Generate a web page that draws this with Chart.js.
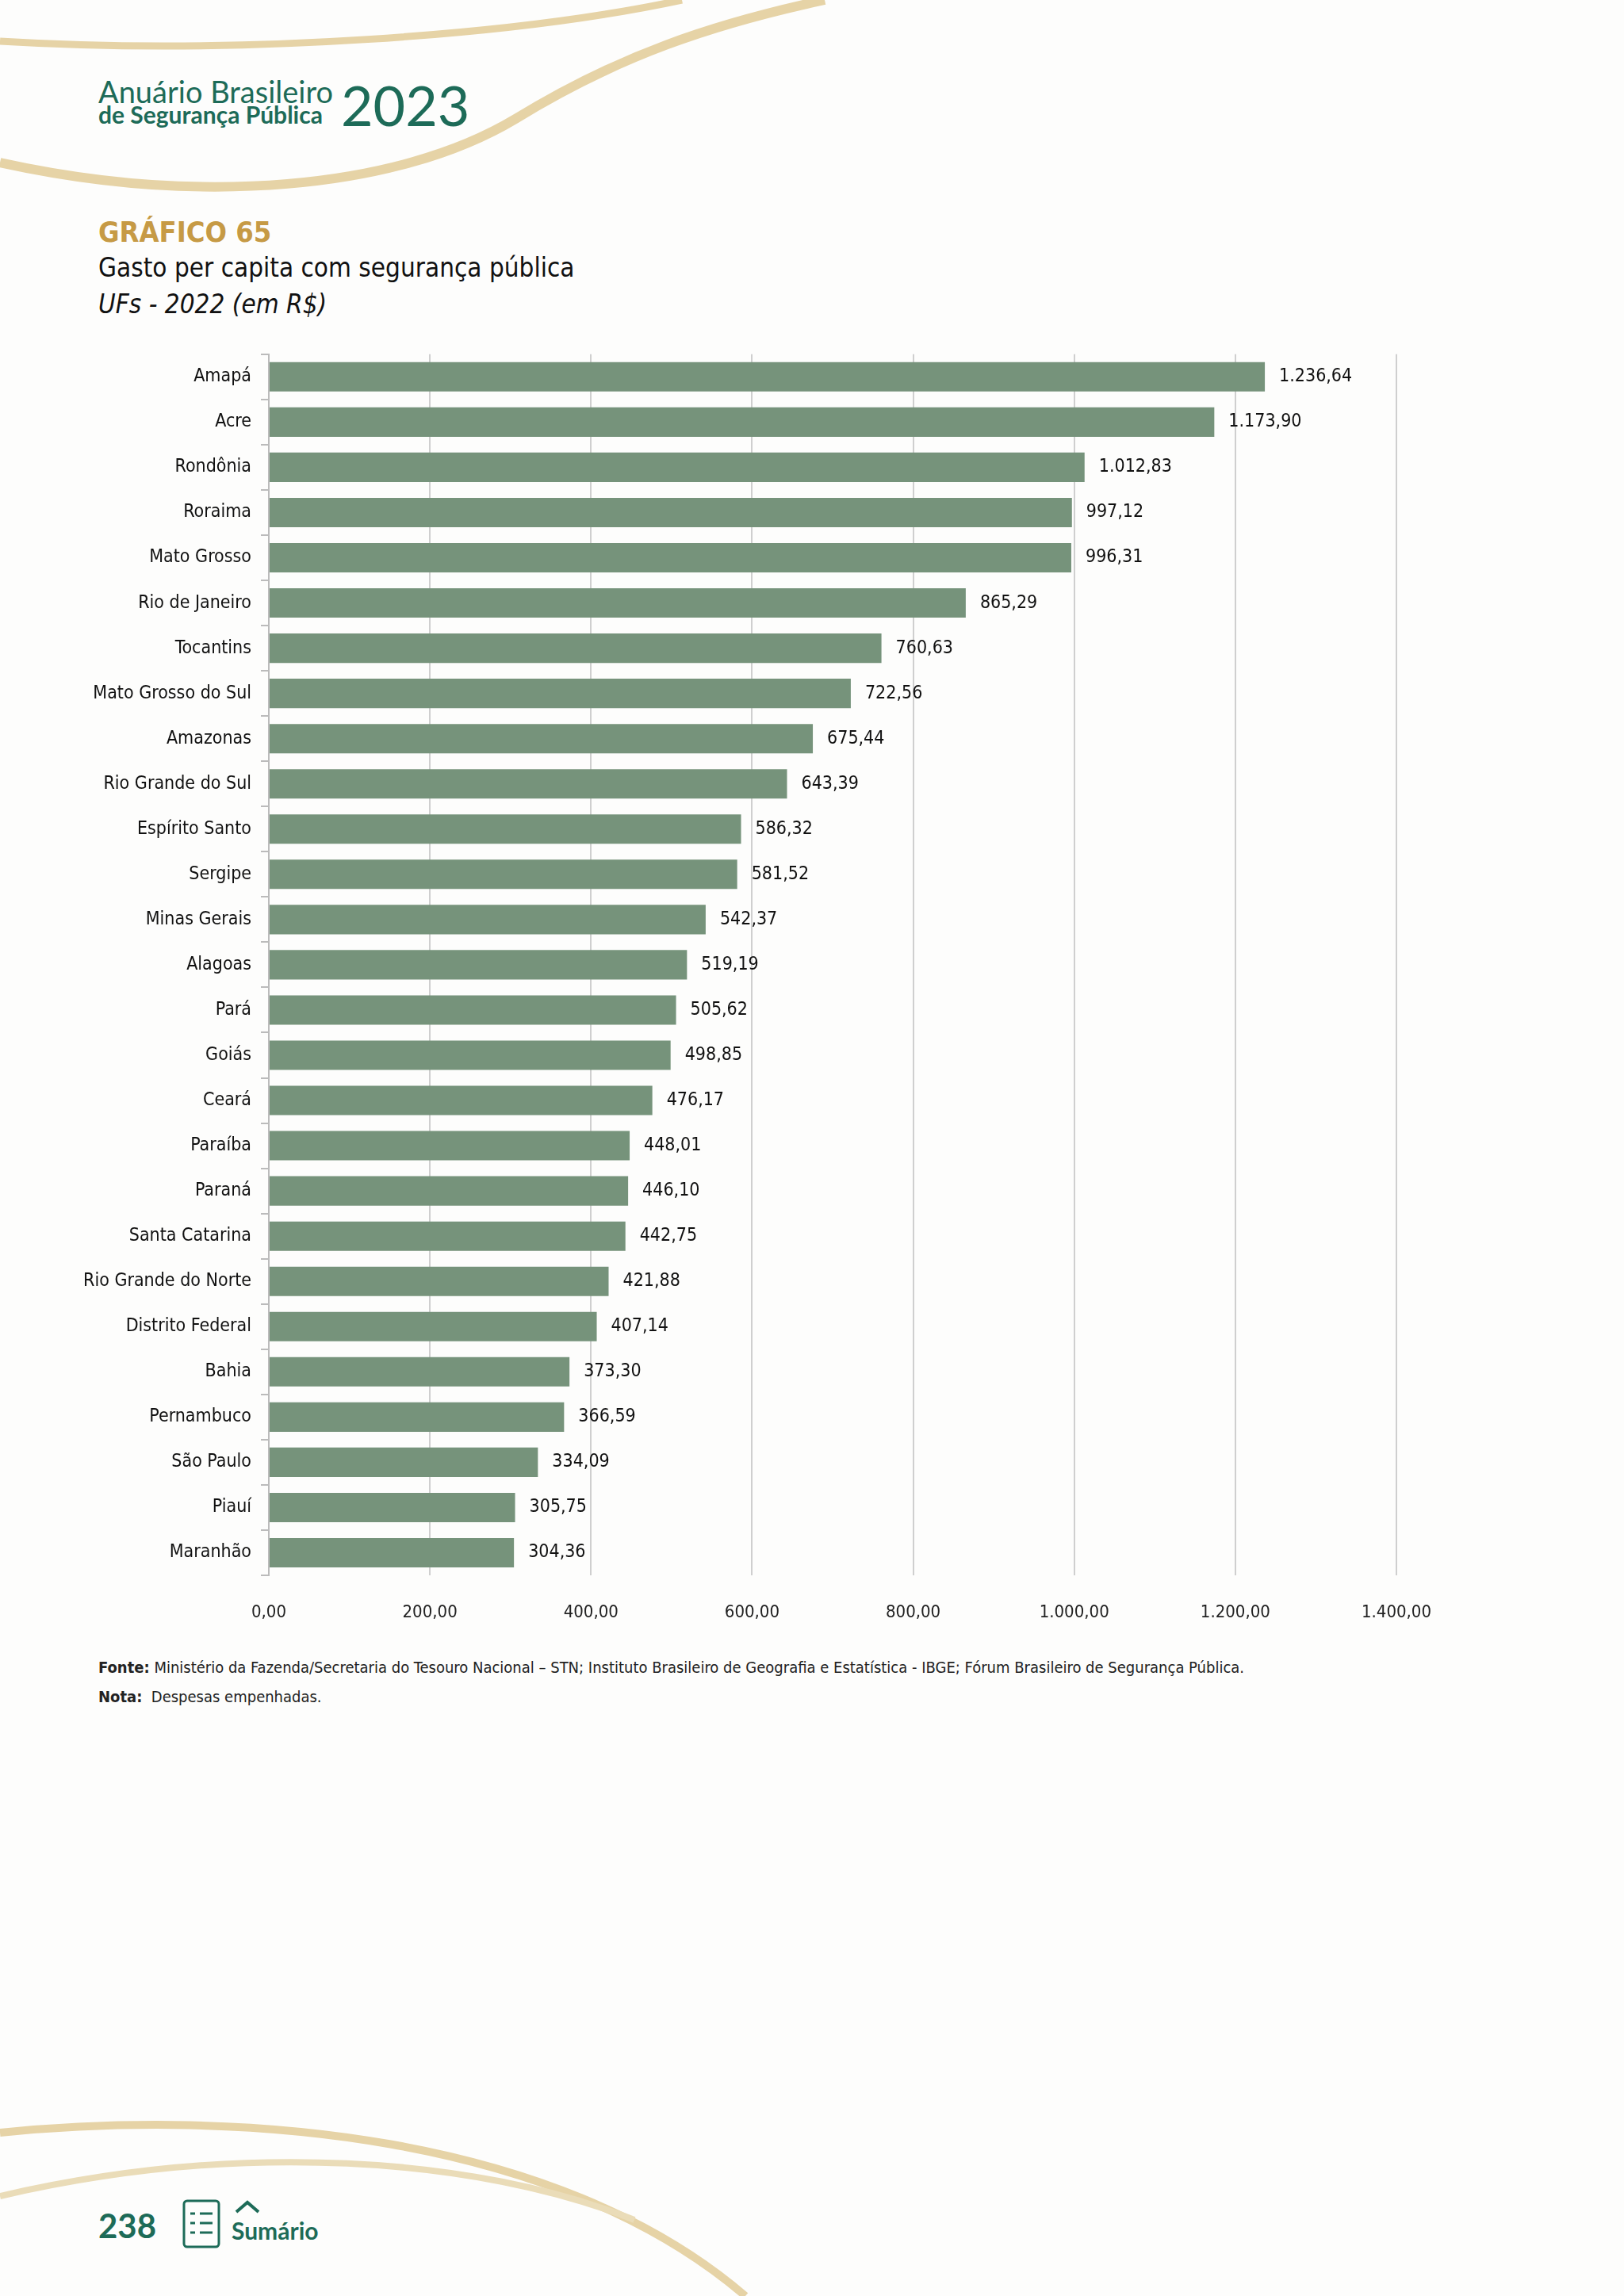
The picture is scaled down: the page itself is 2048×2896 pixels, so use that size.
<!DOCTYPE html>
<html><head><meta charset="utf-8">
<script src="https://cdn.jsdelivr.net/npm/chart.js@4"></script>
<style>
body{margin:0;width:2048px;height:2896px;background:#fdfdfc;position:relative;overflow:hidden;font-family:"DejaVu Sans Condensed",sans-serif;}
.t{position:absolute;white-space:nowrap;}
#wrap{position:absolute;left:0;top:421px;width:2048px;height:1638px;}
</style></head><body>
<svg width="2048" height="2896" style="position:absolute;left:0;top:0">
 <path d="M0 52 C300 70 650 45 860 0" stroke="#e6d3a6" stroke-width="9" fill="none"/>
 <path d="M0 205 C250 260 500 240 650 150 C780 70 900 30 1040 0" stroke="#e6d3a6" stroke-width="12" fill="none"/>
 <path d="M0 2690 C300 2660 700 2690 940 2896" stroke="#e6d3a6" stroke-width="10" fill="none"/>
 <path d="M0 2770 C300 2700 600 2720 800 2800" stroke="#eadcb8" stroke-width="8" fill="none"/>
</svg>
<div class="t" style="left:124px;top:92px;font:38px Lato,sans-serif;color:#1d6b58">Anuário Brasileiro</div>
<div class="t" style="left:124px;top:126px;font:bold 30px Lato,sans-serif;color:#1d6b58">de Segurança Pública</div>
<div class="t" style="left:430px;top:90px;font:70px Lato,sans-serif;color:#1d6b58">2023</div>
<div class="t" style="left:124px;top:272px;font:bold 36px 'DejaVu Sans Condensed',sans-serif;color:#c69a45">GRÁFICO 65</div>
<div class="t" style="left:124px;top:318px;font:33px 'DejaVu Sans Condensed',sans-serif;color:#111">Gasto per capita com segurança pública</div>
<div class="t" style="left:124px;top:364px;font:italic 33px 'DejaVu Sans Condensed',sans-serif;color:#111">UFs - 2022 (em R$)</div>
<div class="t" style="left:124px;top:2091px;font:20px 'DejaVu Sans Condensed',sans-serif;color:#222"><b>Fonte:</b> Ministério da Fazenda/Secretaria do Tesouro Nacional – STN; Instituto Brasileiro de Geografia e Estatística - IBGE; Fórum Brasileiro de Segurança Pública.</div>
<div class="t" style="left:124px;top:2128px;font:20px 'DejaVu Sans Condensed',sans-serif;color:#222"><b>Nota:</b>&nbsp; Despesas empenhadas.</div>
<div class="t" style="left:124px;top:2782px;font:bold 42px Lato,sans-serif;color:#1d6b58">238</div>
<svg width="60" height="70" style="position:absolute;left:228px;top:2772px"><rect x="4" y="4" width="44" height="58" rx="4" fill="none" stroke="#1d6b58" stroke-width="3"/><g stroke="#1d6b58" stroke-width="3"><line x1="12" y1="20" x2="18" y2="20"/><line x1="24" y1="20" x2="40" y2="20"/><line x1="12" y1="32" x2="18" y2="32"/><line x1="24" y1="32" x2="40" y2="32"/><line x1="12" y1="44" x2="18" y2="44"/><line x1="24" y1="44" x2="40" y2="44"/></g></svg>
<svg width="40" height="24" style="position:absolute;left:294px;top:2772px"><path d="M4 18 L18 6 L32 18" stroke="#1d6b58" stroke-width="4" fill="none"/></svg>
<div class="t" style="left:292px;top:2795px;font:bold 30px Lato,sans-serif;color:#1d6b58">Sumário</div>
<div id="wrap"><canvas id="c"></canvas></div>
<script>
const categories = ['Amapá','Acre','Rondônia','Roraima','Mato Grosso','Rio de Janeiro','Tocantins','Mato Grosso do Sul','Amazonas','Rio Grande do Sul','Espírito Santo','Sergipe','Minas Gerais','Alagoas','Pará','Goiás','Ceará','Paraíba','Paraná','Santa Catarina','Rio Grande do Norte','Distrito Federal','Bahia','Pernambuco','São Paulo','Piauí','Maranhão'];
const values = [1236.64,1173.90,1012.83,997.12,996.31,865.29,760.63,722.56,675.44,643.39,586.32,581.52,542.37,519.19,505.62,498.85,476.17,448.01,446.10,442.75,421.88,407.14,373.30,366.59,334.09,305.75,304.36];
const tickValues = [0,200,400,600,800,1000,1200,1400];

function fmt(v){
  const p = v.toFixed(2).split('.');
  return p[0].replace(/\B(?=(\d{3})+(?!\d))/g,'.') + ',' + p[1];
}
const FONT = 'DejaVu Sans Condensed';
const labelPlugin = {
  id:'vals',
  afterDatasetsDraw(chart){
    const ctx = chart.ctx;
    ctx.save();
    ctx.font = '23px "' + FONT + '"';
    ctx.fillStyle = '#111';
    ctx.textBaseline = 'middle';
    chart.getDatasetMeta(0).data.forEach((b,i)=>{
      ctx.fillText(fmt(values[i]), b.x + 18, b.y);
    });
    ctx.restore();
  }
};
new Chart(document.getElementById('c'), {
  type:'bar',
  data:{labels:categories, datasets:[{data:values, backgroundColor:'#76937b', barPercentage:0.65, categoryPercentage:1}]},
  plugins:[labelPlugin],
  options:{
    indexAxis:'y', responsive:true, maintainAspectRatio:false, animation:false,
    layout:{padding:{top:10,right:287,left:0,bottom:0}},
    plugins:{legend:{display:false}, tooltip:{enabled:false}},
    scales:{
      x:{min:0,max:1400,
        afterBuildTicks(a){a.ticks = tickValues.map(v=>({value:v}));},
        afterFit(a){a.height = 72;},
        grid:{color:'#cfcfcf', lineWidth:2, drawTicks:false},
        border:{display:false},
        ticks:{padding:34, color:'#222', font:{family:FONT,size:22}, callback:v=>fmt(v)}},
      y:{afterFit(a){a.width = 339;},
        grid:{offset:true, drawOnChartArea:false, color:'#bbb', lineWidth:2, tickLength:10},
        border:{color:'#bbb', width:2},
        ticks:{padding:12, color:'#111', font:{family:FONT,size:23}}}
    }
  }
});
</script>
</body></html>
